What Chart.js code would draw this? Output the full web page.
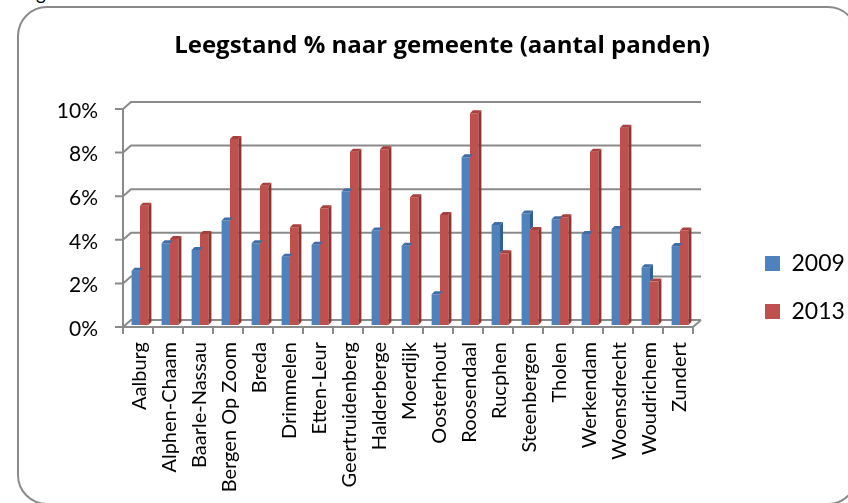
<!DOCTYPE html>
<html>
<head>
<meta charset="utf-8">
<script src="https://cdn.jsdelivr.net/npm/chart.js@4/dist/chart.umd.min.js"></script>
<style>
  html, body { margin: 0; padding: 0; background: #fff; }
  #wrap { position: relative; width: 848px; height: 503px; overflow: hidden; }
  #frame { position: absolute; left: 17px; top: 6px; width: 841px; height: 499px; box-sizing: border-box;
           border: 2px solid #8a8a8a; border-radius: 30px; background: #fff; }
  #cap { position: absolute; left: 36px; top: -19px; font: 19px Lato, sans-serif; color: #000; }
  canvas { position: absolute; left: 0; top: 0; }
</style>
</head>
<body>
<div id="wrap">
  <div id="frame"></div>
  <div id="cap">g</div>
  <canvas id="c" width="848" height="503"></canvas>
</div>
<script>
const categories = ['Aalburg','Alphen-Chaam','Baarle-Nassau','Bergen Op Zoom','Breda','Drimmelen','Etten-Leur',
  'Geertruidenberg','Halderberge','Moerdijk','Oosterhout','Roosendaal','Rucphen','Steenbergen','Tholen',
  'Werkendam','Woensdrecht','Woudrichem','Zundert'];
const values2009 = [2.49, 3.75, 3.44, 4.79, 3.75, 3.13, 3.68, 6.12, 4.33, 3.64, 1.41, 7.69, 4.59, 5.12, 4.85, 4.17, 4.40, 2.65, 3.62];
const values2013 = [5.47, 3.94, 4.17, 8.53, 6.39, 4.48, 5.35, 7.95, 8.06, 5.86, 5.05, 9.71, 3.29, 4.36, 4.94, 7.95, 9.05, 1.99, 4.33];
const seriesNames = ['2009', '2013'];
const tickValues = [0, 2, 4, 6, 8, 10];
const tickLabels = ['0%', '2%', '4%', '6%', '8%', '10%'];
const titleText = 'Leegstand % naar gemeente (aantal panden)';

const BLUE = '#4f81bd', RED = '#c0504d';
const BLUE_SIDE = '#34608f', RED_SIDE = '#8f3431';
const BLUE_TOP = '#3f6ea6', RED_TOP = '#a83f3c';
const GRID = '#8a8a8a';

const axes3d = {
  id: 'axes3d',
  beforeDatasetsDraw(chart) {
    const ctx = chart.ctx, a = chart.chartArea, ys = chart.scales.y, xs = chart.scales.x;
    const fx = -2, fy = 2, bx = 6, by = -5;
    ctx.save();
    ctx.strokeStyle = GRID; ctx.lineWidth = 2; ctx.lineCap = 'butt';
    const y0 = ys.getPixelForValue(0), yTop = ys.getPixelForValue(tickValues[tickValues.length - 1]);
    tickValues.forEach(v => {
      const yy = ys.getPixelForValue(v);
      ctx.beginPath();
      ctx.moveTo(a.left + fx - 8, yy + fy);
      ctx.lineTo(a.left + fx, yy + fy);
      ctx.lineTo(a.left + bx, yy + by);
      ctx.lineTo(a.right + bx, yy + by);
      ctx.stroke();
    });
    ctx.beginPath();
    ctx.moveTo(a.left + fx, yTop + fy);
    ctx.lineTo(a.left + fx, y0 + fy);
    ctx.stroke();
    ctx.beginPath();
    ctx.moveTo(a.left + fx, y0 + fy);
    ctx.lineTo(a.right + fx, y0 + fy);
    ctx.lineTo(a.right + bx, y0 + by);
    ctx.stroke();
    const step = xs.getPixelForValue(1) - xs.getPixelForValue(0);
    for (let i = 0; i <= categories.length; i++) {
      const xx = xs.getPixelForValue(0) - step / 2 + i * step + fx;
      ctx.beginPath();
      ctx.moveTo(xx, y0 + fy);
      ctx.lineTo(xx, y0 + fy + 7);
      ctx.stroke();
    }
    ctx.restore();
  }
};

const bars3d = {
  id: 'bars3d',
  afterDatasetsDraw(chart) {
    const ctx = chart.ctx;
    const m0 = chart.getDatasetMeta(0).data, m1 = chart.getDatasetMeta(1).data;
    const d = 3;
    const top = (p, col) => {
      ctx.fillStyle = col;
      ctx.beginPath();
      ctx.moveTo(p.x - p.width / 2, p.y);
      ctx.lineTo(p.x - p.width / 2 + d, p.y - d);
      ctx.lineTo(p.x + p.width / 2 + d, p.y - d);
      ctx.lineTo(p.x + p.width / 2, p.y);
      ctx.closePath(); ctx.fill();
    };
    const side = (p, yLow, col) => {
      ctx.fillStyle = col;
      ctx.beginPath();
      ctx.moveTo(p.x + p.width / 2, p.y);
      ctx.lineTo(p.x + p.width / 2 + d, p.y - d);
      ctx.lineTo(p.x + p.width / 2 + d, yLow - d);
      ctx.lineTo(p.x + p.width / 2, yLow);
      ctx.closePath(); ctx.fill();
    };
    ctx.save();
    for (let i = 0; i < m0.length; i++) {
      const b = m0[i].getProps(['x', 'y', 'base', 'width'], true);
      const r = m1[i].getProps(['x', 'y', 'base', 'width'], true);
      if (b.y < r.y) side(b, r.y, BLUE_SIDE);
      top(b, BLUE_TOP);
      side(r, r.base, RED_SIDE);
      top(r, RED_TOP);
    }
    ctx.restore();
  }
};

const placeBoxes = {
  id: 'placeBoxes',
  afterLayout(chart) {
    const lg = chart.legend;
    if (lg) { lg.left = 740; lg.right = 848; lg.top = 227; lg.bottom = 400; }
    const tb = chart.titleBlock;
    if (tb) { tb.left = 36; tb.right = 848; }
  }
};

new Chart(document.getElementById('c'), {
  type: 'bar',
  data: {
    labels: categories,
    datasets: [
      { label: seriesNames[0], data: values2009, backgroundColor: BLUE, borderWidth: 0 },
      { label: seriesNames[1], data: values2013, backgroundColor: RED, borderWidth: 0 }
    ]
  },
  options: {
    responsive: false,
    animation: false,
    devicePixelRatio: 1,
    layout: { padding: { left: 0, right: 53, top: 0, bottom: 0 } },
    datasets: { bar: { categoryPercentage: 0.56, barPercentage: 1.0 } },
    scales: {
      x: {
        grid: { display: false, drawTicks: false },
        border: { display: false },
        ticks: { color: '#000', font: { family: 'Lato', size: 20 }, minRotation: 90, maxRotation: 90, padding: 17, autoSkip: false },
        afterFit(s) { s.height = 178; }
      },
      y: {
        min: 0, max: 10,
        afterBuildTicks(s) { s.ticks = tickValues.map(v => ({ value: v })); },
        grid: { display: false, drawTicks: false },
        border: { display: false },
        ticks: { color: '#000', font: { family: 'Lato', size: 21 }, padding: 27, labelOffset: 4,
                 callback: (v) => tickLabels[tickValues.indexOf(v)] },
        afterFit(s) { s.width = 125; }
      }
    },
    plugins: {
      title: { display: true, text: titleText, color: '#000',
               font: { family: 'Open Sans', size: 24, weight: 'bold', lineHeight: 1.2 },
               padding: { top: 32, bottom: 46.2 } },
      legend: { position: 'right', align: 'start', maxWidth: 100,
                labels: { color: '#000', font: { family: 'Lato', size: 23 }, boxWidth: 15, boxHeight: 15, padding: 25 } },
      tooltip: { enabled: false }
    }
  },
  plugins: [axes3d, bars3d, placeBoxes]
});
</script>
</body>
</html>
